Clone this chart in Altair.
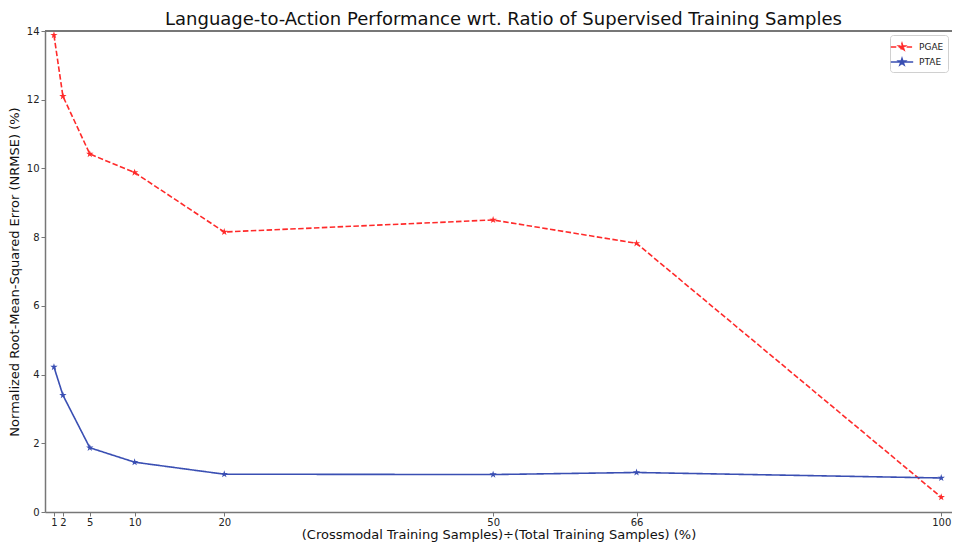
import altair as alt
import pandas as pd

ratios = [1, 2, 5, 10, 20, 50, 66, 100]
pgae = [13.88, 12.1, 10.42, 9.88, 8.15, 8.5, 7.82, 0.43]
ptae = [4.22, 3.4, 1.87, 1.45, 1.1, 1.09, 1.15, 0.99]
series_names = ["PGAE", "PTAE"]
series_colors = ["#ff2a2a", "#3a4fb3"]
y_ticks = [0, 2, 4, 6, 8, 10, 12, 14]

rows = []
for r, a, b in zip(ratios, pgae, ptae):
    rows.append({"ratio": r, "nrmse": a, "model": "PGAE"})
    rows.append({"ratio": r, "nrmse": b, "model": "PTAE"})
df = pd.DataFrame(rows)

W, H = 907, 481
FONT = "DejaVu Sans"

star = ("M0,-1L0.2245,-0.309L0.951,-0.309L0.363,0.118L0.588,0.809L0,0.382"
        "L-0.588,0.809L-0.363,0.118L-0.951,-0.309L-0.2245,-0.309Z")
legend_sym = ("M-1.6,0H1.6M0,-0.48L0.108,-0.148L0.456,-0.148L0.174,0.057L0.282,0.388"
              "L0,0.183L-0.282,0.388L-0.174,0.057L-0.456,-0.148L-0.108,-0.148Z")

x = alt.X("ratio:Q",
          scale=alt.Scale(domain=[0, 101.2], nice=False, zero=False),
          axis=alt.Axis(values=ratios, title="(Crossmodal Training Samples)\u00f7(Total Training Samples) (%)",
                        grid=False, labelFlush=False, labelOverlap=False))
y = alt.Y("nrmse:Q",
          scale=alt.Scale(domain=[0, 14], nice=False),
          axis=alt.Axis(values=y_ticks, title="Normalized Root-Mean-Squared Error (NRMSE) (%)",
                        grid=False, labelFlush=False))

color = alt.Color("model:N",
                  scale=alt.Scale(domain=series_names, range=series_colors),
                  legend=alt.Legend(title=None, orient="top-right", offset=4,
                                    symbolType=legend_sym, symbolSize=196,
                                    symbolStrokeWidth=1.6, labelFontSize=9,
                                    labelFont=FONT, labelColor="#222", labelOffset=9,
                                    rowPadding=1, padding=4,
                                    strokeColor="#d0d0d0", fillColor="white",
                                    cornerRadius=3))
dash = alt.StrokeDash("model:N",
                      scale=alt.Scale(domain=series_names, range=[[5.5, 2.4], [1, 0]]),
                      legend=alt.Legend(title=None, orient="top-right"))

lines = alt.Chart(df).mark_line(strokeWidth=1.6).encode(x=x, y=y, color=color, strokeDash=dash)
points = alt.Chart(df).mark_point(shape=star, filled=True, size=60, opacity=1).encode(
    x="ratio:Q", y="nrmse:Q",
    fill=alt.Fill("model:N", scale=alt.Scale(domain=series_names, range=series_colors), legend=None),
)
top_rule = alt.Chart(df).mark_rule(color="#777", strokeWidth=1.5).encode(
    x=alt.value(0), x2=alt.value(W), y=alt.value(0))

chart = alt.layer(top_rule, lines, points).properties(
    width=W, height=H,
    autosize=alt.AutoSizeParams(type="none"),
    padding={"left": 37, "top": 23, "right": 0, "bottom": 31},
    title=alt.Title("Language-to-Action Performance wrt. Ratio of Supervised Training Samples",
                    fontSize=18, font=FONT, fontWeight="normal", color="#111", offset=-3, dx=5),
).configure_view(stroke=None).configure_axis(
    domainColor="#777", domainWidth=1.5, tickColor="#777", tickSize=4, tickWidth=1,
    labelFont=FONT, labelFontSize=10, labelColor="#222", labelPadding=1,
    titleFont=FONT, titleFontSize=13, titleFontWeight="normal", titleColor="#111",
).configure_axisX(titlePadding=1).configure_axisY(titlePadding=5, labelPadding=2)

chart.save("out.html", embed_options={"renderer": "svg", "actions": False})
